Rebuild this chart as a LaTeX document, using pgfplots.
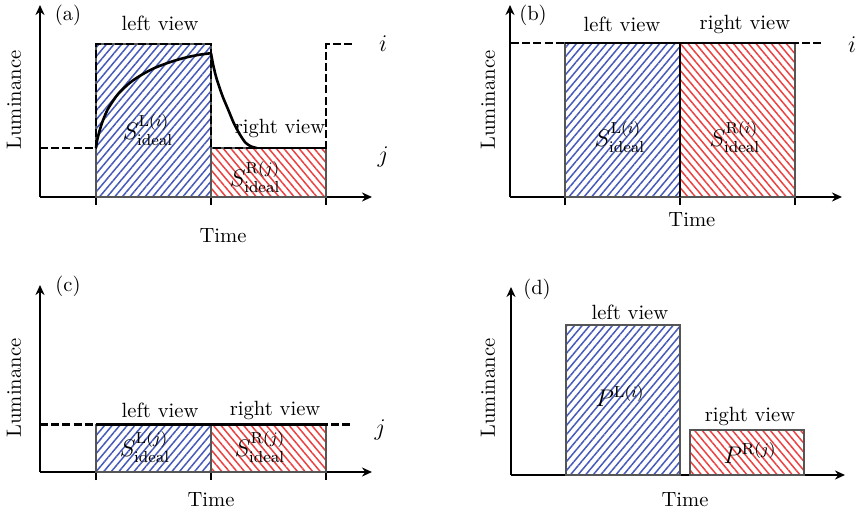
\documentclass[border=0pt]{standalone}
\usepackage{pgfplots}
\pgfplotsset{compat=1.18}
\usetikzlibrary{patterns.meta,arrows.meta}
\definecolor{hblue}{RGB}{70,90,185}
\definecolor{hred}{RGB}{235,65,65}
\definecolor{edge}{RGB}{85,85,85}
\tikzset{
 bluehatch/.style={pattern={Lines[angle=50,distance=2.9pt,line width=0.75pt]},pattern color=hblue, draw=edge, line width=0.6pt},
 redhatch/.style={pattern={Lines[angle=-50,distance=2.9pt,line width=0.75pt]},pattern color=hred, draw=edge, line width=0.6pt},
 dashline/.style={black, line width=1.1pt, dash pattern=on 4pt off 1.6pt},
 solidline/.style={black, line width=1.3pt},
 lab/.style={font=\fontsize{10.3}{12}\selectfont, inner sep=0pt},
 mlab/.style={font=\fontsize{12}{14}\selectfont, inner sep=0pt},
}
\pgfplotsset{panel/.style={scale only axis, axis lines=left, enlargelimits=false, clip=false,
  axis line style={line width=1.3pt,-{Stealth[length=5pt,width=4.5pt]}},
  ytick=\empty, xtick={1,2,3}, xticklabels={}, tick align=outside, major tick length=4pt,
  tick style={line width=1.2pt,black}, anchor=south west}}
\begin{document}
\begin{tikzpicture}
\useasboundingbox (0,0) rectangle (428pt,257pt);
% (a)
\begin{axis}[panel, at={(20pt,158.5pt)}, width=166pt, height=96pt, xmin=0.513, xmax=3.4, ymin=0, ymax=1.255]
\addplot[bluehatch] coordinates {(1,0) (1,1) (2,1) (2,0)} -- cycle;
\addplot[redhatch] coordinates {(2,0) (2,0.32) (3,0.32) (3,0)} -- cycle;
\addplot[dashline] coordinates {(0.513,0.32) (1,0.32) (1,1) (2,1) (2,0.32) (3,0.32) (3,1) (3.245,1)};
\addplot[solidline, smooth] coordinates {(1,0.32) (1.01,0.37) (1.03,0.43) (1.06,0.50) (1.1,0.57) (1.15,0.63) (1.2,0.68) (1.3,0.75) (1.4,0.80) (1.5,0.84) (1.6,0.87) (1.7,0.895) (1.8,0.915) (1.9,0.93) (2.0,0.94)};
\addplot[solidline, smooth] coordinates {(2,0.94) (2.02,0.86) (2.05,0.77) (2.1,0.66) (2.15,0.57) (2.2,0.48) (2.25,0.41) (2.3,0.355) (2.35,0.33) (2.4,0.32)};
\addplot[solidline] coordinates {(2.4,0.32) (3,0.32)};
\node[lab] at (axis cs:0.757,1.19) {(a)};
\node[lab] at (axis cs:1.557,1.137) {left view};
\node[lab] at (axis cs:2.6,0.451) {right view};
\node[mlab] at (axis cs:3.496,1.0) {$i$};
\node[mlab] at (axis cs:3.496,0.261) {$j$};
\node[lab] at (axis cs:2.104,-0.255) {Time};
\node[lab,rotate=90] at (axis cs:0.287,0.634) {Luminance};
\node[mlab] at (axis cs:1.452,0.438) {$S^{\mathrm{L}(i)}_{\mathrm{ideal}}$};
\node[mlab] at (axis cs:2.383,0.131) {$S^{\mathrm{R}(j)}_{\mathrm{ideal}}$};
\end{axis}
% (b)
\begin{axis}[panel, at={(255pt,158.5pt)}, width=166pt, height=96pt, xmin=0.522, xmax=3.409, ymin=0, ymax=1.247]
\addplot[bluehatch] coordinates {(1,0) (1,1) (2,1) (2,0)} -- cycle;
\addplot[redhatch] coordinates {(2,0) (2,1) (3,1) (3,0)} -- cycle;
\addplot[dashline] coordinates {(0.53,1) (3.243,1)};
\addplot[solidline] coordinates {(1,1) (3,1)};
\addplot[solidline] coordinates {(2,0) (2,1)};
\node[lab] at (axis cs:0.722,1.18) {(b)};
\node[lab] at (axis cs:1.496,1.123) {left view};
\node[lab] at (axis cs:2.565,1.123) {right view};
\node[mlab] at (axis cs:3.496,0.987) {$i$};
\node[lab] at (axis cs:2.104,-0.149) {Time};
\node[lab,rotate=90] at (axis cs:0.33,0.63) {Luminance};
\node[mlab] at (axis cs:1.478,0.39) {$S^{\mathrm{L}(i)}_{\mathrm{ideal}}$};
\node[mlab] at (axis cs:2.478,0.39) {$S^{\mathrm{R}(i)}_{\mathrm{ideal}}$};
\end{axis}
% (c)
\begin{axis}[panel, at={(20pt,21pt)}, width=166pt, height=93.5pt, xmin=0.513, xmax=3.4, ymin=0, ymax=1.222]
\addplot[bluehatch] coordinates {(1,0) (1,0.31) (2,0.31) (2,0)} -- cycle;
\addplot[redhatch] coordinates {(2,0) (2,0.31) (3,0.31) (3,0)} -- cycle;
\addplot[dashline] coordinates {(0.513,0.31) (3.235,0.31)};
\addplot[solidline] coordinates {(1,0.31) (3,0.31)};
\node[lab] at (axis cs:0.757,1.21) {(c)};
\node[lab] at (axis cs:1.557,0.405) {left view};
\node[lab] at (axis cs:2.557,0.405) {right view};
\node[mlab] at (axis cs:3.47,0.275) {$j$};
\node[lab] at (axis cs:2.0,-0.183) {Time};
\node[lab,rotate=90] at (axis cs:0.287,0.549) {Luminance};
\node[mlab] at (axis cs:1.426,0.163) {$S^{\mathrm{L}(j)}_{\mathrm{ideal}}$};
\node[mlab] at (axis cs:2.426,0.163) {$S^{\mathrm{R}(j)}_{\mathrm{ideal}}$};
\end{axis}
% (d)
\begin{axis}[panel, at={(255.5pt,19.5pt)}, width=167pt, height=94pt, xmin=0.518, xmax=3.447, ymin=0, ymax=1.253, xtick=\empty]
\addplot[bluehatch] coordinates {(1,0) (1,1) (2,1) (2,0)} -- cycle;
\addplot[redhatch] coordinates {(2.088,0) (2.088,0.30) (3.088,0.30) (3.088,0)} -- cycle;
\node[lab] at (axis cs:0.746,1.24) {(d)};
\node[lab] at (axis cs:1.561,1.087) {left view};
\node[lab] at (axis cs:2.614,0.387) {right view};
\node[lab] at (axis cs:2.044,-0.167) {Time};
\node[lab,rotate=90] at (axis cs:0.316,0.58) {Luminance};
\node[mlab] at (axis cs:1.474,0.527) {$P^{\mathrm{L}(i)}$};
\node[mlab] at (axis cs:2.614,0.147) {$P^{\mathrm{R}(j)}$};
\end{axis}
\end{tikzpicture}
\end{document}
